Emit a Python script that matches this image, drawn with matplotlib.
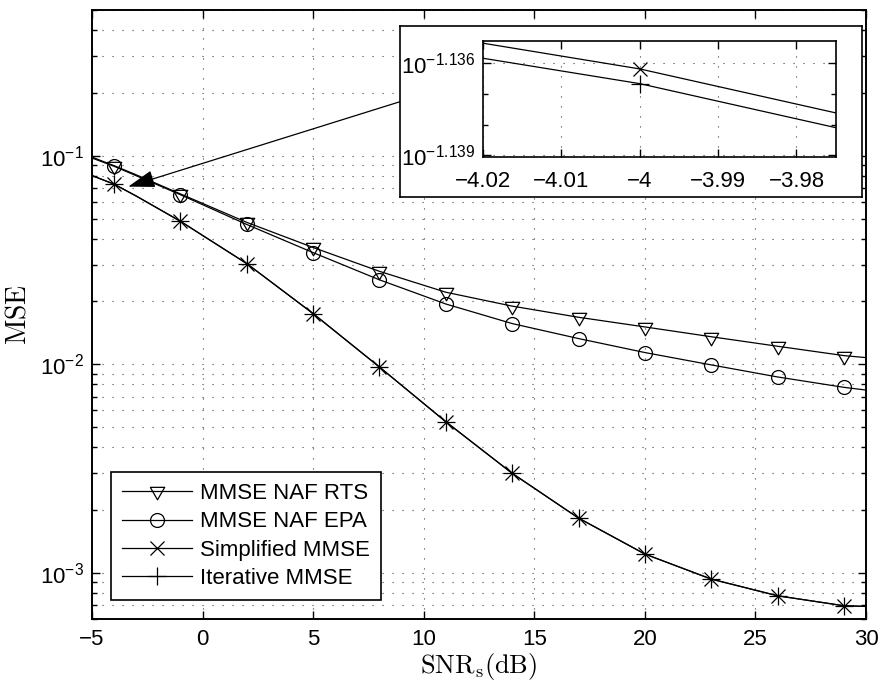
import numpy as np
import matplotlib
matplotlib.use('Agg')
import matplotlib.pyplot as plt
from matplotlib.ticker import FixedLocator, NullFormatter, LogLocator

# fonts: sans for ticks/legend (matlab helvetica look), CM for the latex labels
plt.rcParams['font.family'] = ['Liberation Sans', 'DejaVu Sans']
plt.rcParams['mathtext.fontset'] = 'custom'
plt.rcParams['mathtext.rm'] = 'Liberation Sans'
plt.rcParams['mathtext.it'] = 'Liberation Sans:italic'
plt.rcParams['mathtext.bf'] = 'Liberation Sans:bold'
plt.rcParams['axes.unicode_minus'] = True

# data
snr = [-5, -4, -3, -1, 2, 5, 8, 11, 14, 17, 20, 23, 26, 29, 30]
mark_idx = [1, 3, 4, 5, 6, 7, 8, 9, 10, 11, 12, 13]

mse_rts = [0.0985, 0.0896, 0.0810, 0.0656, 0.0479, 0.0363, 0.0279, 0.02215,
           0.0190, 0.0168, 0.0151, 0.01355, 0.0122, 0.0110, 0.01076]
mse_epa = [0.0975, 0.0890, 0.0802, 0.0650, 0.0468, 0.0343, 0.0254, 0.01945,
           0.01567, 0.01328, 0.01138, 0.00993, 0.00869, 0.00775, 0.00752]
mse_simp = [0.08043, 0.07308, 0.06411, 0.0485, 0.0304, 0.0175, 0.0097, 0.0053,
            0.0030, 0.00183, 0.00123, 0.000933, 0.000776, 0.000695, 0.00069]
mse_iter = [0.08024, 0.07300, 0.06403, 0.04845, 0.03037, 0.01748, 0.00969, 0.005295,
            0.002997, 0.001828, 0.001229, 0.000932, 0.000775, 0.000694, 0.000689]

labels = ['MMSE NAF RTS', 'MMSE NAF EPA', 'Simplified MMSE', 'Iterative MMSE']

# matlab style down triangle (centred on centroid)
tri = [(-1, 0.577), (1, 0.577), (0, -1.155), (-1, 0.577)]
markers = [tri, 'o', 'x', '+']
msizes = [12, 10, 10, 13]

W, H = 882, 684
fig = plt.figure(figsize=(W / 100, H / 100), dpi=100)
ax = fig.add_axes([92 / W, 1 - 619 / H, (866 - 92) / W, (619 - 10) / H])

def draw(a):
    for y, m, ms, lab in zip([mse_rts, mse_epa, mse_simp, mse_iter], markers, msizes, labels):
        a.plot(snr, y, color='k', lw=0.9, marker=m, ms=ms, mfc='none', mec='k',
               mew=0.9, markevery=mark_idx, label=lab)

draw(ax)
ax.set_yscale('log')
ax.set_xlim(-5, 30)
ax.set_ylim(6e-4, 0.5)
ax.set_xticks(np.arange(-5, 31, 5))
ax.set_yticks([1e-3, 1e-2, 1e-1])
ax.set_yticklabels([r'$10^{-3}$', r'$10^{-2}$', r'$10^{-1}$'])
ax.yaxis.set_minor_locator(LogLocator(base=10, subs=np.arange(2, 10)))
ax.yaxis.set_minor_formatter(NullFormatter())
ax.grid(True, which='major', ls=(0, (1, 8)), lw=0.8, color='0.25')
ax.grid(True, which='minor', axis='y', ls=(0, (1, 8)), lw=0.8, color='0.25')
ax.tick_params(which='both', direction='in', top=True, right=True, labelsize=16, width=1)
ax.tick_params(which='major', length=5.5)
ax.tick_params(which='minor', length=3.5)
ax.tick_params(axis='x', pad=7)
ax.tick_params(axis='y', pad=6)
for s in ax.spines.values():
    s.set_linewidth(1.4)

ax.set_xlabel(r'$\mathrm{SNR_s(dB)}$', fontsize=19, math_fontfamily='cm', labelpad=1)
ax.set_ylabel(r'$\mathrm{MSE}$', fontsize=20, math_fontfamily='cm', labelpad=6)

leg = ax.legend(loc='lower left', fontsize=16, handlelength=3.15, handletextpad=0.36,
                labelspacing=0.33, borderpad=0.5, borderaxespad=0.85,
                fancybox=False, edgecolor='k', framealpha=1, numpoints=1)
leg.get_frame().set_linewidth(1.2)

# zoom box with inset
box = fig.add_axes([400 / W, 1 - 197 / H, (862 - 400) / W, (197 - 26) / H])
box.set_xticks([])
box.set_yticks([])
box.set_facecolor('white')
for s in box.spines.values():
    s.set_linewidth(1.2)

ins = fig.add_axes([482.7 / W, 1 - 156.7 / H, (835.7 - 482.7) / W, (156.7 - 40.7) / H])
draw(ins)
ins.set_yscale('log')
ins.set_xlim(-4.02, -3.975)
ins.set_ylim(10 ** -1.13904, 10 ** -1.13529)
ins.set_xticks([-4.02, -4.01, -4, -3.99, -3.98])
ins.set_xticklabels(['\u22124.02', '\u22124.01', '\u22124', '\u22123.99', '\u22123.98'])
ins.yaxis.set_major_locator(FixedLocator([10 ** -1.139, 10 ** -1.136]))
ins.set_yticklabels([r'$10^{-1.139}$', r'$10^{-1.136}$'])
ins.yaxis.set_minor_locator(FixedLocator([10 ** -1.137, 10 ** -1.138]))
ins.yaxis.set_minor_formatter(NullFormatter())
ins.grid(True, which='major', ls=(0, (1, 8)), lw=0.8, color='0.25')
ins.tick_params(which='both', direction='in', top=True, right=True, labelsize=16, width=1)
ins.tick_params(which='major', length=5.5)
ins.tick_params(which='minor', length=3.5)
ins.tick_params(axis='x', pad=10)
ins.tick_params(axis='y', pad=5)
for s in ins.spines.values():
    s.set_linewidth(1.2)

# arrow from the box to the zoomed spot
ax.annotate('', xy=(-3.36, 0.0711), xycoords='data',
            xytext=(400 / W, 1 - 101.7 / H), textcoords='figure fraction',
            arrowprops=dict(arrowstyle='-|>,head_length=1.66,head_width=0.54',
                            mutation_scale=10, color='k', lw=0.9, shrinkA=0, shrinkB=0),
            zorder=5)

fig.savefig('out.png', dpi=100)
